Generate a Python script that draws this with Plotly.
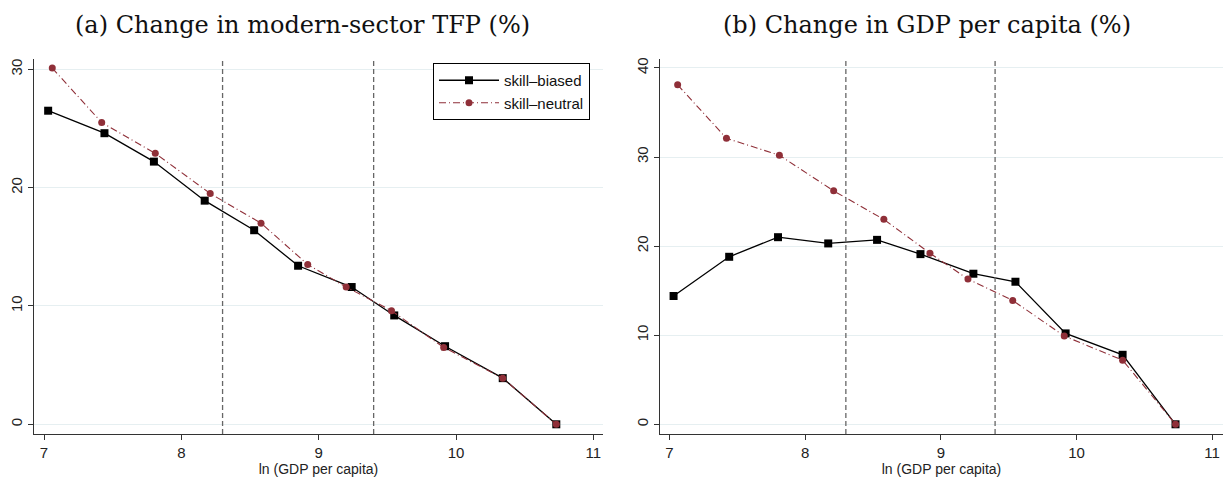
import plotly.graph_objects as go

# ---- data ----
x_biased = [7.03, 7.44, 7.80, 8.17, 8.53, 8.85, 9.24, 9.55, 9.92, 10.34, 10.73]
x_neutral = [7.06, 7.42, 7.81, 8.21, 8.58, 8.92, 9.20, 9.53, 9.91, 10.34, 10.73]

tfp_biased = [26.5, 24.6, 22.2, 18.9, 16.4, 13.4, 11.6, 9.2, 6.6, 3.9, 0.0]
tfp_neutral = [30.1, 25.5, 22.9, 19.5, 17.0, 13.5, 11.6, 9.6, 6.5, 3.9, 0.0]

gdp_biased = [14.4, 18.8, 21.0, 20.3, 20.7, 19.1, 16.9, 16.0, 10.2, 7.8, 0.0]
gdp_neutral = [38.1, 32.1, 30.2, 26.2, 23.0, 19.2, 16.3, 13.9, 9.9, 7.2, 0.0]

vlines = [8.3, 9.4]
x_ticks = [7, 8, 9, 10, 11]
y_ticks_a = [0, 10, 20, 30]
y_ticks_b = [0, 10, 20, 30, 40]

titles = ["(a) Change in modern-sector TFP (%)", "(b) Change in GDP per capita (%)"]
x_title = "ln (GDP per capita)"
names = ["skill\u2013biased", "skill\u2013neutral"]

W, H = 1225, 477
BLACK = "#000000"
RED = "#8f2f38"
GRID = "#e6eff1"
SANS = "Liberation Sans, Arial, sans-serif"
SERIF = "DejaVu Serif, serif"

fig = go.Figure()

panels = [
    dict(xa="x", ya="y", b=tfp_biased, n=tfp_neutral, legend=True),
    dict(xa="x2", ya="y2", b=gdp_biased, n=gdp_neutral, legend=False),
]
for p in panels:
    fig.add_trace(go.Scatter(
        x=x_biased, y=p["b"], mode="lines+markers", name=names[0],
        xaxis=p["xa"], yaxis=p["ya"], showlegend=p["legend"],
        line=dict(color=BLACK, width=1.3),
        marker=dict(symbol="square", size=8, color=BLACK),
    ))
    fig.add_trace(go.Scatter(
        x=x_neutral, y=p["n"], mode="lines+markers", name=names[1],
        xaxis=p["xa"], yaxis=p["ya"], showlegend=p["legend"],
        line=dict(color=RED, width=1.1, dash="7px,3px,1px,3px"),
        marker=dict(symbol="circle", size=7, color=RED),
    ))

for xr, yr in [("x", "y"), ("x2", "y2")]:
    for v in vlines:
        fig.add_shape(type="line", xref=xr, yref=yr + " domain", x0=v, x1=v, y0=0, y1=1,
                      line=dict(color="#666666", width=1.3, dash="5px,3px"))

def px_x(v):
    return v / W

def px_y(v):
    return 1 - v / H

TICKFONT = dict(family=SANS, size=15, color="#222222")
axis_common = dict(
    showline=True, linecolor="#333333", linewidth=1.2,
    ticks="outside", ticklen=5, tickcolor="#333333", tickwidth=1,
    tickfont=TICKFONT, zeroline=False, automargin=False,
)

ydom = [px_y(434), px_y(59)]
fig.update_layout(
    width=W, height=H,
    margin=dict(l=0, r=0, t=0, b=0),
    paper_bgcolor="white", plot_bgcolor="white",
    xaxis=dict(domain=[px_x(34), px_x(603)], range=[6.927, 11.07], tickvals=x_ticks,
               showgrid=False, anchor="y",
               title=dict(text=x_title, font=dict(family=SANS, size=14, color="#222222"), standoff=2),
               **axis_common),
    yaxis=dict(domain=ydom, range=[-0.82, 30.87], tickvals=y_ticks_a, tickangle=-90,
               showgrid=True, gridcolor=GRID, gridwidth=1, anchor="x", **axis_common),
    xaxis2=dict(domain=[px_x(660), px_x(1223)], range=[6.93, 11.08], tickvals=x_ticks,
                showgrid=False, anchor="y2",
                title=dict(text=x_title, font=dict(family=SANS, size=14, color="#222222"), standoff=2),
                **axis_common),
    yaxis2=dict(domain=ydom, range=[-1.09, 41.0], tickvals=y_ticks_b, tickangle=-90,
                showgrid=True, gridcolor=GRID, gridwidth=1, anchor="x2", **axis_common),
    legend=dict(x=px_x(590), y=px_y(63), xanchor="right", yanchor="top",
                bgcolor="white", bordercolor="#000000", borderwidth=1,
                font=dict(family=SANS, size=15, color="#111111"),
                tracegroupgap=2, itemwidth=60),
    annotations=[
        dict(text=titles[0], x=px_x(302), y=px_y(25), xref="paper", yref="paper",
             showarrow=False, xanchor="center", yanchor="middle",
             font=dict(family=SERIF, size=24, color="#111111")),
        dict(text=titles[1], x=px_x(927), y=px_y(25), xref="paper", yref="paper",
             showarrow=False, xanchor="center", yanchor="middle",
             font=dict(family=SERIF, size=24, color="#111111")),
    ],
)

fig.write_html("out.html", config={"displayModeBar": False},
               post_script="document.body.style.margin='0';")
